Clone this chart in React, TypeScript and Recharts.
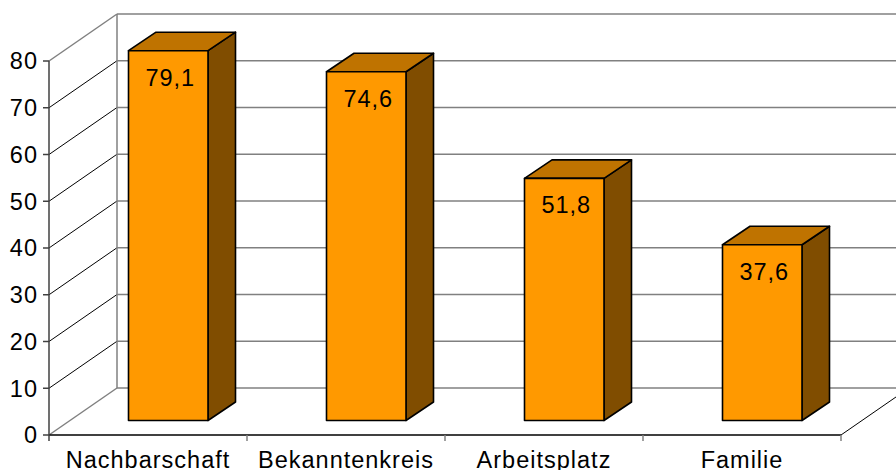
import { BarChart, Bar, XAxis, YAxis, CartesianGrid, LabelList } from 'recharts';

const categories = ['Nachbarschaft', 'Bekanntenkreis', 'Arbeitsplatz', 'Familie'];
const values = [79.1, 74.6, 51.8, 37.6];
const yTicks = [0, 10, 20, 30, 40, 50, 60, 70, 80];

const data = categories.map((name, i) => ({ name, value: values[i] }));

const FONT = '"Liberation Sans", Arial, sans-serif';
const FONT_SIZE = 23.5;
const LETTER_SPACING = 1;
const PLOT_LEFT = 49;
const PLOT_RIGHT = 841;
const PLOT_TOP = 61;
const PLOT_BOTTOM = 435;
const BAND = (PLOT_RIGHT - PLOT_LEFT) / categories.length;

// depth of the chart box and of the bars, in px
const WALL_DX = 68;
const WALL_DY = -47;
const BAR_DX = 27.5;
const BAR_DY = -18.5;
const BAR_SHIFT_X = 20.5;
const BAR_SHIFT_Y = -14.5;

function gridLine(props: any) {
    const { y1, x1, x2, index } = props;
    const isEdge = y1 === PLOT_TOP || y1 === PLOT_BOTTOM;
    return (
        <g key={`line-${index}`}>
            <line
                x1={x1}
                y1={y1}
                x2={x1 + WALL_DX}
                y2={y1 + WALL_DY}
                stroke={isEdge ? '#808080' : '#000000'}
                strokeWidth={isEdge ? 1.5 : 1}
            />
            <line x1={x1 + WALL_DX} y1={y1 + WALL_DY} x2={x2 + WALL_DX} y2={y1 + WALL_DY} stroke="#808080" strokeWidth={1.5} />
            {y1 === PLOT_BOTTOM && (
                <line x1={x2} y1={y1} x2={x2 + WALL_DX} y2={y1 + WALL_DY} stroke="#000000" strokeWidth={1} />
            )}
            {y1 === PLOT_TOP && (
                <line
                    x1={x1 + WALL_DX}
                    y1={y1 + WALL_DY}
                    x2={x1 + WALL_DX}
                    y2={PLOT_BOTTOM + WALL_DY}
                    stroke="#808080"
                    strokeWidth={1.5}
                />
            )}
        </g>
    );
}

function Box3D(props: any) {
    const { x, y, width, height } = props;
    const left = x + BAR_SHIFT_X;
    const right = left + width;
    const top = y + BAR_SHIFT_Y;
    const bottom = top + height;
    const common = { stroke: '#000000', strokeWidth: 1.6, strokeLinejoin: 'round' as const };
    return (
        <g>
            <path
                d={`M${right} ${top}L${right + BAR_DX} ${top + BAR_DY}L${right + BAR_DX} ${bottom + BAR_DY}L${right} ${bottom}Z`}
                fill="#804d00"
                {...common}
            />
            <path
                d={`M${left} ${top}L${left + BAR_DX} ${top + BAR_DY}L${right + BAR_DX} ${top + BAR_DY}L${right} ${top}Z`}
                fill="#bf7300"
                {...common}
            />
            <rect x={left} y={top} width={width} height={height} fill="#ff9900" {...common} />
        </g>
    );
}

function CategoryTick(props: any) {
    const { x, payload, index } = props;
    return (
        <g>
            {index === 0 && (
                <line x1={x - BAND / 2} y1={PLOT_BOTTOM} x2={x - BAND / 2} y2={PLOT_BOTTOM + 6} stroke="#404040" strokeWidth={1.5} />
            )}
            <line x1={x + BAND / 2} y1={PLOT_BOTTOM} x2={x + BAND / 2} y2={PLOT_BOTTOM + 6} stroke="#808080" strokeWidth={1.5} />
            <text x={x} y={467.5} textAnchor="middle" fontFamily={FONT} fontSize={FONT_SIZE} letterSpacing={LETTER_SPACING} fill="#000000">
                {payload.value}
            </text>
        </g>
    );
}

function ValueLabel(props: any) {
    const { x, y, width, value } = props;
    return (
        <text
            x={x + BAR_SHIFT_X + width / 2 + 2}
            y={y + BAR_SHIFT_Y + 35}
            textAnchor="middle"
            fontFamily={FONT}
            fontSize={FONT_SIZE}
            letterSpacing={LETTER_SPACING}
            fill="#000000"
        >
            {String(value).replace('.', ',')}
        </text>
    );
}

export default function App() {
    return (
        <div style={{ position: 'absolute', left: 0, top: 0, width: 896, height: 470, background: '#ffffff' }}>
            <BarChart
                width={896}
                height={470}
                data={data}
                margin={{ top: PLOT_TOP, right: 896 - PLOT_RIGHT, bottom: 0, left: 0 }}
                barSize={79.5}
            >
                <CartesianGrid horizontal={gridLine} vertical={false} />
                <XAxis
                    dataKey="name"
                    axisLine={{ stroke: '#000000', strokeWidth: 1.5 }}
                    tickLine={false}
                    tick={CategoryTick}
                    interval={0}
                    height={470 - PLOT_BOTTOM}
                />
                <YAxis
                    width={PLOT_LEFT}
                    domain={[0, 80]}
                    ticks={yTicks}
                    axisLine={{ stroke: '#404040', strokeWidth: 1.5 }}
                    tickLine={{ stroke: '#404040', strokeWidth: 1.5 }}
                    tickSize={6}
                    tickMargin={5}
                    tick={{ fontFamily: FONT, fontSize: FONT_SIZE, letterSpacing: LETTER_SPACING, fill: '#000000' }}
                />
                <Bar dataKey="value" shape={Box3D} isAnimationActive={false}>
                    <LabelList dataKey="value" content={ValueLabel} />
                </Bar>
            </BarChart>
        </div>
    );
}
